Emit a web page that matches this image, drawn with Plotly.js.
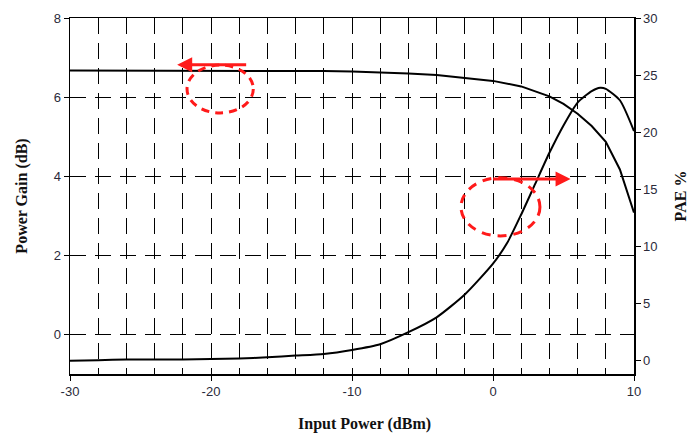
<!DOCTYPE html>
<html>
<head>
<meta charset="utf-8">
<script src="https://cdn.plot.ly/plotly-3.0.1.min.js"></script>
<style>html,body{margin:0;padding:0;background:#fff;}#chart{width:695px;height:434px;}</style>
</head>
<body>
<div id="chart"></div>
<script>
// Power gain (left axis, dB) vs input power (dBm)
const gainX = [-30,-28,-26,-24,-22,-20,-18,-16,-14,-12,-10,-8,-6,-4,-2,0,2,4,5,6,7,8,9,10];
const gainY = [6.67,6.67,6.67,6.67,6.67,6.67,6.67,6.66,6.66,6.66,6.65,6.63,6.60,6.56,6.49,6.41,6.27,6.02,5.83,5.58,5.27,4.87,4.17,3.08];
// PAE (right axis, %) vs input power (dBm)
const paeX = [-30,-28,-26,-24,-22,-20,-18,-16,-14,-12,-10,-8,-6,-4,-2,0,1,2,3,4,5,6,7,7.6,8,9,10];
const paeY = [0.0,0.05,0.1,0.1,0.12,0.15,0.2,0.3,0.45,0.6,0.95,1.45,2.5,3.8,5.8,8.5,10.3,12.8,15.5,18.2,20.6,22.6,23.6,23.9,23.8,22.8,20.1];
// axis ticks
const xTicks = [-30,-20,-10,0,10];
const xTickText = ['-30','-20','-10','0','10'];
const yTicks = [0,2,4,6,8];
const y2Ticks = [0,5,10,15,20,25,30];
// axis titles
const xTitle = 'Input Power (dBm)';
const yTitle = 'Power Gain (dB)';
const y2Title = 'PAE %';

const tickFont = {family: 'Liberation Sans, Arial, sans-serif', size: 13, color: '#2a2a3a'};
const titleFont = {family: 'Liberation Serif, Times New Roman, serif', size: 16, color: '#111', weight: 'bold'};
const dash = '16px,9px';

const traces = [
  {x: gainX, y: gainY, type: 'scatter', mode: 'lines', yaxis: 'y',
   line: {color: '#000', width: 2}, hoverinfo: 'skip'},
  {x: paeX, y: paeY, type: 'scatter', mode: 'lines', yaxis: 'y2',
   line: {color: '#000', width: 2, shape: 'spline', smoothing: 0.6}, hoverinfo: 'skip'}
];

const red = '#ff1a1a';
const layout = {
  width: 695, height: 434,
  margin: {l: 70, r: 61, t: 18, b: 60},
  paper_bgcolor: '#fff', plot_bgcolor: '#fff',
  showlegend: false,
  xaxis: {
    range: [-30, 10], tickvals: xTicks, ticktext: xTickText, ticks: 'outside', ticklen: 5, tickcolor: '#000',
    showline: true, linecolor: '#000', linewidth: 1.5, mirror: true,
    showgrid: true, gridcolor: '#000', gridwidth: 1, griddash: dash,
    minor: {dtick: 2, tick0: -30, showgrid: true, gridcolor: '#000', gridwidth: 1, griddash: dash, ticks: ''},
    zeroline: false, tickfont: tickFont
  },
  yaxis: {
    range: [-1, 8], tickvals: yTicks, ticks: 'outside', ticklen: 5, tickcolor: '#000',
    showline: true, linecolor: '#000', linewidth: 1.5,
    showgrid: true, gridcolor: '#000', gridwidth: 1, griddash: dash,
    zeroline: false, tickfont: tickFont,
    title: {text: yTitle, font: titleFont, standoff: 22}
  },
  yaxis2: {
    range: [-1.16, 30], tickvals: y2Ticks, ticks: 'outside', ticklen: 5, tickcolor: '#000',
    overlaying: 'y', side: 'right',
    showline: true, linecolor: '#000', linewidth: 1.5,
    showgrid: false, zeroline: false, tickfont: tickFont,
    title: {text: y2Title, font: titleFont, standoff: 18}
  },
  shapes: [
    {type: 'circle', xref: 'x', yref: 'y', x0: -21.7, x1: -17.0, y0: 5.60, y1: 6.81,
     line: {color: red, width: 3, dash: '8px,6px'}},
    {type: 'circle', xref: 'x', yref: 'y', x0: -2.27, x1: 3.33, y0: 2.49, y1: 3.96,
     line: {color: red, width: 3, dash: '9px,7px'}}
  ],
  annotations: [
    {x: -22.4, y: 6.82, ax: -17.4, ay: 6.82, xref: 'x', yref: 'y', axref: 'x', ayref: 'y',
     text: '', showarrow: true, arrowhead: 2, arrowsize: 1, arrowwidth: 3, arrowcolor: red},
    {x: 5.5, y: 3.93, ax: -0.1, ay: 3.93, xref: 'x', yref: 'y', axref: 'x', ayref: 'y',
     text: '', showarrow: true, arrowhead: 2, arrowsize: 1, arrowwidth: 3, arrowcolor: red},
    {text: xTitle, xref: 'paper', yref: 'paper', x: 0.523, y: -0.14,
     xanchor: 'center', yanchor: 'middle', showarrow: false, font: titleFont}
  ]
};

Plotly.newPlot('chart', traces, layout, {displayModeBar: false, staticPlot: true});
</script>
</body>
</html>
